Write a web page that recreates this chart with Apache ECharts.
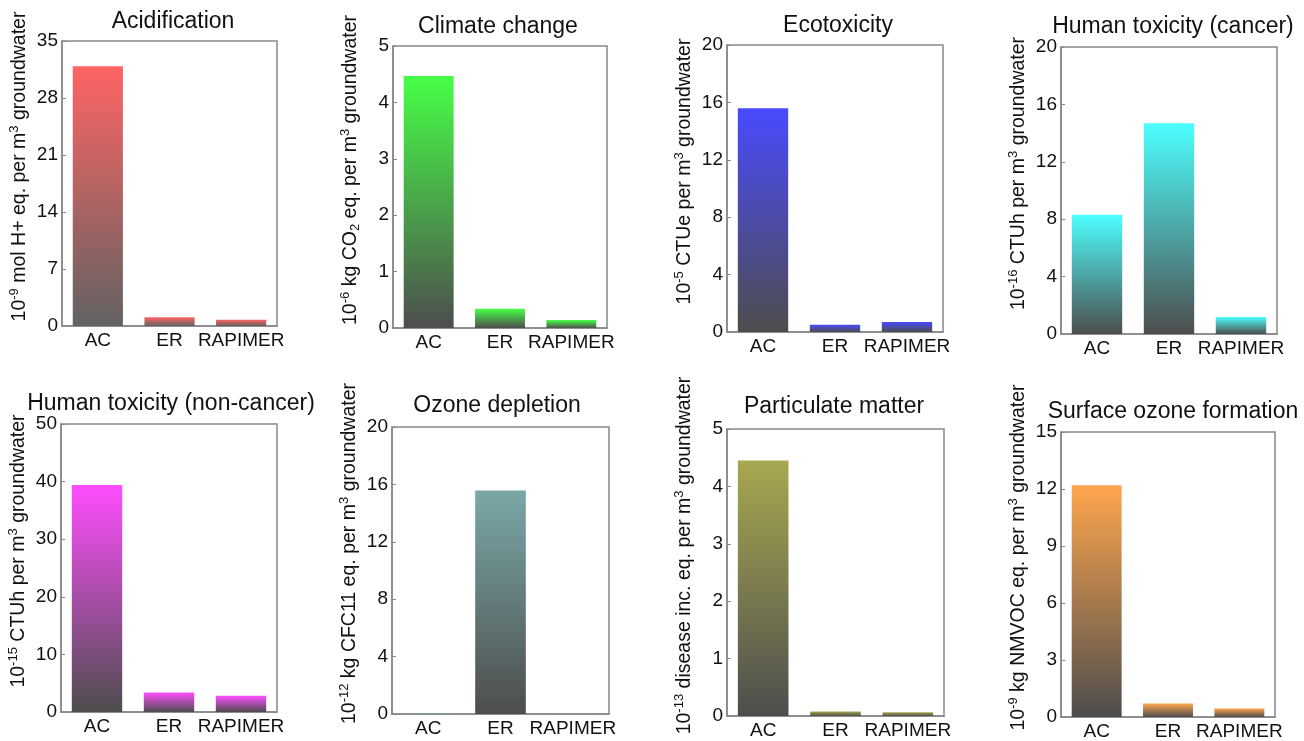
<!DOCTYPE html>
<html>
<head>
<meta charset="utf-8">
<script src="https://cdn.jsdelivr.net/npm/echarts@6/dist/echarts.min.js"></script>
<style>
  html, body { margin: 0; padding: 0; background: #fff; }
  #chart { width: 1304px; height: 741px; }
</style>
</head>
<body>
<div id="chart"></div>
<script>
var categories = ["AC", "ER", "RAPIMER"];

// values per impact category (AC, ER, RAPIMER)
var acidification = [31.9, 1.07, 0.77];
var climateChange = [4.47, 0.34, 0.14];
var ecotoxicity = [15.6, 0.51, 0.70];
var humanToxCancer = [8.31, 14.68, 1.18];
var humanToxNonCancer = [39.4, 3.4, 2.83];
var ozoneDepletion = [0.03, 15.58, 0.02];
var particulateMatter = [4.45, 0.08, 0.064];
var surfaceOzone = [12.2, 0.71, 0.45];

var titles = ["Acidification", "Climate change", "Ecotoxicity", "Human toxicity (cancer)",
  "Human toxicity (non-cancer)", "Ozone depletion", "Particulate matter", "Surface ozone formation"];

var axisNames = [
  "{n|10}{sup|-9}{n| mol H+ eq. per m}{sup|3}{n| groundwater}",
  "{n|10}{sup|-6}{n| kg CO}{sub|2}{n| eq. per m}{sup|3}{n| groundwater}",
  "{n|10}{sup|-5}{n| CTUe per m}{sup|3}{n| groundwater}",
  "{n|10}{sup|-16}{n| CTUh per m}{sup|3}{n| groundwater}",
  "{n|10}{sup|-15}{n| CTUh per m}{sup|3}{n| groundwater}",
  "{n|10}{sup|-12}{n| kg CFC11 eq. per m}{sup|3}{n| groundwater}",
  "{n|10}{sup|-13}{n| disease inc. eq. per m}{sup|3}{n| groundwater}",
  "{n|10}{sup|-9}{n| kg NMVOC eq. per m}{sup|3}{n| groundwater}"
];

var axisMax = [35, 5, 20, 20, 50, 20, 5, 15];
var axisStep = [7, 1, 4, 4, 10, 4, 1, 3];

var allData = [acidification, climateChange, ecotoxicity, humanToxCancer,
  humanToxNonCancer, ozoneDepletion, particulateMatter, surfaceOzone];

// layout + colours
var panels = [
  { left: 62, top: 41, width: 215, height: 285, tx: 173, ty: 10, color: "#ff6464", base: "#626262" },
  { left: 393, top: 46, width: 214, height: 282, tx: 498, ty: 15, color: "#46ff46", base: "#4d4d4d" },
  { left: 727, top: 45, width: 216, height: 287, tx: 838, ty: 14, color: "#4a4aff", base: "#4d4d4d" },
  { left: 1061, top: 47, width: 216, height: 287, tx: 1173, ty: 15, color: "#4dffff", base: "#4d4d4d" },
  { left: 61, top: 424, width: 216, height: 288, tx: 171, ty: 392, color: "#ff4dff", base: "#4d4d4d" },
  { left: 392, top: 427, width: 217, height: 287, tx: 497, ty: 394, color: "#7aa8a8", base: "#4d4d4d" },
  { left: 727, top: 429, width: 217, height: 287, tx: 834, ty: 395, color: "#a8a850", base: "#4d4d4d" },
  { left: 1061, top: 432, width: 214, height: 287, tx: 1173, ty: 400, color: "#ffa64d", base: "#4d4d4d" }
];

var font = "Arial, 'Liberation Sans', sans-serif";
var axisGrey = "#888888";

var option = { animation: false, title: [], grid: [], xAxis: [], yAxis: [], series: [] };

panels.forEach(function (p, i) {
  option.title.push({
    text: titles[i],
    left: p.tx,
    top: p.ty,
    textAlign: "center",
    padding: 0,
    textStyle: { fontFamily: font, fontSize: 23, fontWeight: "normal", color: "#111" }
  });
  option.grid.push({
    left: p.left, top: p.top, width: p.width, height: p.height,
    show: true, borderColor: axisGrey, borderWidth: 1.5, backgroundColor: "#fff"
  });
  option.xAxis.push({
    type: "category",
    gridIndex: i,
    data: categories,
    axisTick: { show: false },
    axisLine: { lineStyle: { color: axisGrey, width: 1.5 } },
    axisLabel: { fontFamily: font, fontSize: 19, color: "#111", margin: 5, interval: 0 }
  });
  option.yAxis.push({
    type: "value",
    gridIndex: i,
    min: 0,
    max: axisMax[i],
    interval: axisStep[i],
    splitLine: { show: false },
    axisLine: { show: true, lineStyle: { color: axisGrey, width: 1.5 } },
    axisTick: { show: true, inside: true, length: 4, lineStyle: { color: axisGrey } },
    axisLabel: { fontFamily: font, fontSize: 19, color: "#111", margin: 4 },
    name: axisNames[i],
    nameLocation: "middle",
    nameRotate: 90,
    nameGap: 31,
    nameTextStyle: {
      fontFamily: font,
      color: "#111",
      padding: [0, 0, 0, 34],
      rich: {
        n: { fontFamily: font, fontSize: 19.5, lineHeight: 23, color: "#111" },
        sup: { fontFamily: font, fontSize: 13, lineHeight: 12, verticalAlign: "top", color: "#111" },
        sub: { fontFamily: font, fontSize: 13, lineHeight: 8, verticalAlign: "bottom", color: "#111" }
      }
    }
  });
  option.series.push({
    type: "bar",
    xAxisIndex: i,
    yAxisIndex: i,
    barWidth: "70%",
    data: allData[i],
    itemStyle: {
      color: new echarts.graphic.LinearGradient(0, 0, 0, 1, [
        { offset: 0, color: p.color },
        { offset: 1, color: p.base }
      ])
    }
  });
});

var myChart = echarts.init(document.getElementById("chart"));
myChart.setOption(option);
</script>
</body>
</html>
